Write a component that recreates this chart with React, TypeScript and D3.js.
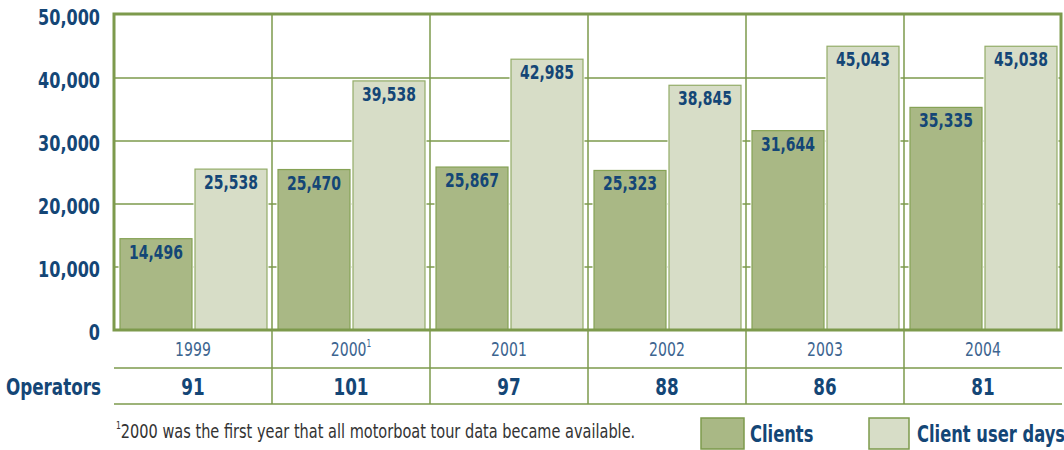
import React from "react";
import * as d3 from "d3";

const years = ["1999", "2000", "2001", "2002", "2003", "2004"];
const clients = [14496, 25470, 25867, 25323, 31644, 35335];
const userDays = [25538, 39538, 42985, 38845, 45043, 45038];
const operators = [91, 101, 97, 88, 86, 81];
const yTicks = [0, 10000, 20000, 30000, 40000, 50000];

const NAVY = "#144676";
const GREEN = "#7d9a4c";
const CLIENT_FILL = "#a9b885";
const DAYS_FILL = "#d7ddc7";
const FONT = "'DejaVu Sans', sans-serif";

// condensed text: DejaVu squeezed horizontally to look like a narrow face
function T({ x, y, anchor = "start", size, weight = "bold", fill = NAVY, sx = 0.73, children }: any) {
  return (
    <text
      transform={`translate(${x},${y}) scale(${sx},1)`}
      textAnchor={anchor}
      fontSize={size}
      fontWeight={weight}
      fill={fill}
    >
      {children}
    </text>
  );
}

export default function App() {
  const width = 1064;
  const height = 450;
  const left = 114;
  const right = 1062;
  const top = 15;
  const bottom = 330;

  const x = d3.scaleBand().domain(years).range([left, right]);
  const y = d3.scaleLinear().domain([0, 50000]).range([bottom, top]);
  const bw = x.bandwidth();
  const barW = 72;
  const fmt = d3.format(",");

  const rowYear = 368;
  const rowOps = 404;

  return (
    <svg width={width} height={height} style={{ position: "absolute", left: 0, top: 0 }} fontFamily={FONT}>
      <rect x={0} y={0} width={width} height={height} fill="#fff" />
      {/* grid */}
      {yTicks.slice(1, -1).map((t) => (
        <line key={t} x1={left} x2={right} y1={y(t)} y2={y(t)} stroke={GREEN} strokeWidth={1.5} />
      ))}
      {years.slice(1).map((yr) => (
        <line key={yr} x1={x(yr)!} x2={x(yr)!} y1={top} y2={rowOps} stroke={GREEN} strokeWidth={1.5} />
      ))}
      {/* bars */}
      {years.map((yr, i) => {
        const x0 = x(yr)! + 6;
        const x1 = x0 + barW + 3;
        return (
          <g key={yr}>
            <rect x={x0 - 1.5} y={y(clients[i]) - 1.5} width={barW + 3} height={bottom - y(clients[i]) + 1.5} fill="#fff" />
            <rect x={x1 - 1.5} y={y(userDays[i]) - 1.5} width={barW + 3} height={bottom - y(userDays[i]) + 1.5} fill="#fff" />
            <rect x={x0} y={y(clients[i])} width={barW} height={bottom - y(clients[i])} fill={CLIENT_FILL} stroke="#86a255" strokeWidth={1.2} />
            <rect x={x1} y={y(userDays[i])} width={barW} height={bottom - y(userDays[i])} fill={DAYS_FILL} stroke="#93ac68" strokeWidth={1.2} />
            <T x={x0 + barW / 2} y={y(clients[i]) + 20} anchor="middle" size={20} sx={0.7}>
              {fmt(clients[i])}
            </T>
            <T x={x1 + barW / 2} y={y(userDays[i]) + 20} anchor="middle" size={20} sx={0.7}>
              {fmt(userDays[i])}
            </T>
          </g>
        );
      })}
      {/* plot border */}
      <rect x={left} y={top - 1} width={right - left - 1} height={bottom - top + 1} fill="none" stroke={GREEN} strokeWidth={3} />
      {/* y axis labels */}
      {yTicks.map((t) => (
        <T key={t} x={100} y={y(t) + 10} anchor="end" size={22}>
          {fmt(t)}
        </T>
      ))}
      {/* table rows */}
      <line x1={left} x2={right} y1={rowYear} y2={rowYear} stroke={GREEN} strokeWidth={1.5} />
      <line x1={left} x2={right} y1={rowOps} y2={rowOps} stroke={GREEN} strokeWidth={1.5} />
      {years.map((yr, i) => (
        <g key={yr}>
          <T x={x(yr)! + bw / 2} y={356} anchor="middle" size={19} weight="normal" fill="#3d6590" sx={0.74}>
            {yr}
            {yr === "2000" && (
              <tspan fontSize={10} dy={-9}>1</tspan>
            )}
          </T>
          <T x={x(yr)! + bw / 2} y={395} anchor="middle" size={23}>
            {operators[i]}
          </T>
        </g>
      ))}
      <T x={101} y={395} anchor="end" size={23}>
        Operators
      </T>
      {/* footnote */}
      <T x={116} y={438} size={19} weight="normal" fill="#333" sx={0.765}>
        <tspan fontSize={10} dy={-9}>1</tspan>
        <tspan dy={9}>2000 was the first year that all motorboat tour data became available.</tspan>
      </T>
      {/* legend */}
      <rect x={701} y={418} width={43} height={31} fill={CLIENT_FILL} stroke={GREEN} strokeWidth={1.5} />
      <T x={750} y={442} size={23} sx={0.71}>Clients</T>
      <rect x={869} y={418} width={40} height={31} fill={DAYS_FILL} stroke={GREEN} strokeWidth={1.5} />
      <T x={917} y={442} size={23} sx={0.71}>Client user days</T>
    </svg>
  );
}
